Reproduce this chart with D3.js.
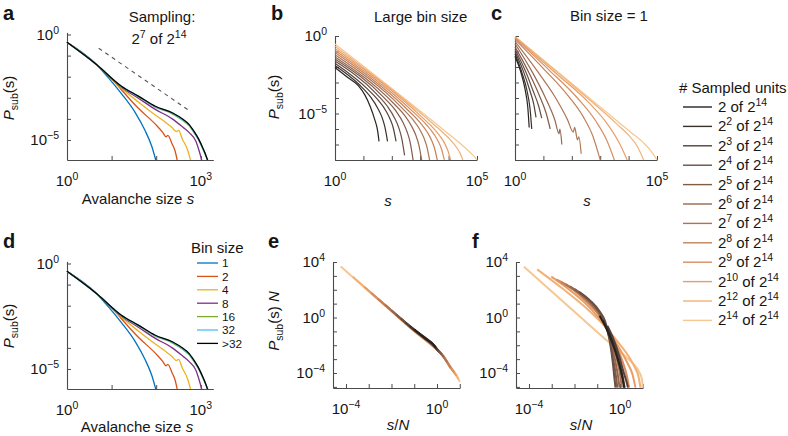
<!DOCTYPE html>
<html><head><meta charset="utf-8">
<script src="https://cdn.jsdelivr.net/npm/d3@7"></script>
<style>
body{margin:0;background:#fff}
svg{display:block;background:#fff}
text{font-family:"Liberation Sans",Arial,Helvetica,sans-serif;fill:#151515;white-space:pre}
</style>
</head><body>
<svg id="chart" width="788" height="436"></svg>
<script>
// ---------------- DATA (log10 exponents: [log10 x, log10 y]) ----------------
const binSizes = ["1","2","4","8","16","32",">32"];
// panel a / d : P_sub(s) vs avalanche size for each bin size
const binBlue   = [[0,-0.37],[0.66,-1.42],[0.92,-2.03],[1.22,-2.8],[1.53,-3.7],[1.75,-4.55],[1.9,-5.3],[1.99,-5.95]];
const binRed    = [[0,-0.37],[0.66,-1.42],[1.0,-2.1],[1.22,-2.62],[1.6,-3.5],[1.98,-4.25],[2.15,-4.65],[2.22,-4.85],[2.26,-4.78],[2.36,-5.2],[2.42,-5.5],[2.47,-5.95]];
const binYellow = [[0,-0.37],[0.66,-1.42],[1.22,-2.55],[1.6,-3.2],[1.98,-3.82],[2.2,-4.15],[2.36,-4.42],[2.45,-4.6],[2.5,-4.55],[2.59,-4.98],[2.7,-5.45],[2.77,-5.95]];
const binPurple = [[0,-0.37],[0.66,-1.42],[1.22,-2.5],[1.6,-3.02],[1.98,-3.55],[2.36,-4.0],[2.6,-4.4],[2.74,-4.65],[2.89,-5.06],[2.96,-5.5],[3.02,-5.95]];
const binGreen  = [[0,-0.37],[0.66,-1.43],[1.22,-2.47],[1.6,-2.95],[1.98,-3.44],[2.36,-3.76],[2.6,-4.08],[2.74,-4.33],[2.85,-4.66],[2.95,-5.0],[3.05,-5.45],[3.1,-5.7],[3.16,-5.95]];
const binCyan   = [[0,-0.37],[0.66,-1.42],[1.22,-2.46],[1.6,-2.93],[1.98,-3.42],[2.36,-3.73],[2.6,-4.05],[2.74,-4.3],[2.85,-4.63],[2.95,-4.97],[3.05,-5.42],[3.1,-5.67],[3.15,-5.95]];
const binBlack  = [[0,-0.37],[0.66,-1.42],[1.22,-2.45],[1.6,-2.92],[1.98,-3.4],[2.36,-3.71],[2.6,-4.02],[2.74,-4.27],[2.85,-4.6],[2.95,-4.95],[3.05,-5.4],[3.1,-5.65],[3.15,-5.95]];
const guideSlope = [[0.71,-0.65],[2.72,-3.58]];

// sampled units: 2^k of 2^14
const sampExp = ["1","2","3","4","5","6","7","8","9","10","12","14"];
// panel b : large bin size
const bK1  = [[0,-2.03],[0.45,-2.68],[0.82,-3.2],[1.05,-3.8],[1.24,-4.55],[1.4,-5.4],[1.5,-6.1],[1.55,-6.8]];
const bK2  = [[0,-1.90],[0.85,-3.13],[1.25,-3.93],[1.5,-4.64],[1.65,-5.22],[1.75,-5.82],[1.85,-6.80]];
const bK3  = [[0,-1.76],[1.15,-3.43],[1.55,-4.20],[1.8,-4.85],[1.95,-5.40],[2.05,-5.92],[2.15,-6.80]];
const bK4  = [[0,-1.62],[1.45,-3.72],[1.85,-4.55],[2.1,-5.30],[2.25,-5.94],[2.35,-6.60],[2.45,-7.70]];
const bK5  = [[0,-1.48],[1.75,-4.02],[2.15,-4.85],[2.4,-5.59],[2.55,-6.24],[2.65,-6.89],[2.75,-8.00]];
const bK6  = [[0,-1.35],[2.05,-4.32],[2.45,-5.12],[2.7,-5.83],[2.85,-6.42],[2.95,-7.01],[3.05,-8.00]];
const bK7  = [[0,-1.21],[2.33,-4.59],[2.73,-5.37],[2.98,-6.02],[3.13,-6.57],[3.23,-7.11],[3.33,-8.00]];
const bK8  = [[0,-1.07],[2.6,-4.84],[3.0,-5.59],[3.25,-6.21],[3.4,-6.72],[3.5,-7.21],[3.6,-8.00]];
const bK9  = [[0,-0.93],[2.85,-5.06],[3.25,-5.79],[3.5,-6.38],[3.65,-6.85],[3.75,-7.29],[3.85,-8.00]];
const bK10 = [[0,-0.80],[3.07,-5.25],[3.47,-5.96],[3.72,-6.52],[3.87,-6.96],[3.97,-7.37],[4.07,-8.00]];
const bK12 = [[0,-0.66],[3.5,-5.74],[3.9,-6.40],[4.15,-6.88],[4.3,-7.24],[4.4,-7.54],[4.5,-8.00]];
const bK14 = [[0,-0.52],[4.0,-6.32],[4.4,-6.92],[4.65,-7.32],[4.8,-7.58],[4.9,-7.77],[5.0,-8.00]];
// panel c : bin size = 1
const cK1  = [[0,-1.3],[0.2,-2.3],[0.35,-3.4],[0.45,-4.6],[0.5,-5.9]];
const cK2  = [[0,-1.15],[0.25,-2.4],[0.42,-3.5],[0.53,-4.7],[0.59,-6.0]];
const cK3  = [[0,-1.0],[0.3,-2.3],[0.52,-3.5],[0.66,-4.4],[0.74,-5.25]];
const cK4  = [[0,-0.85],[0.4,-2.4],[0.65,-3.6],[0.83,-4.5],[0.94,-5.3]];
const cK5  = [[0,-0.7],[0.5,-2.4],[0.85,-3.8],[1.1,-5.0],[1.24,-6.0]];
const cK6  = [[0,-0.5],[0.6,-2.3],[1.05,-3.9],[1.4,-5.4],[1.55,-6.3],[1.58,-6.0],[1.65,-7.0]];
const cK7  = [[0,-0.35],[0.8,-2.3],[1.4,-3.9],[1.85,-5.4],[2.05,-6.2],[2.1,-5.9],[2.2,-6.7],[2.25,-6.5],[2.33,-7.6]];
const cK8  = [[0,-0.22],[1.0,-2.1],[1.8,-3.7],[2.4,-5.2],[2.75,-6.5],[3.0,-8]];
const cK9  = [[0,-0.14],[1.2,-2.2],[2.2,-4.0],[2.85,-5.5],[3.25,-6.8],[3.5,-8]];
const cK10 = [[0,-0.09],[1.5,-2.5],[2.6,-4.3],[3.3,-5.8],[3.7,-7.0],[3.95,-8]];
const cK12 = [[0,-0.05],[2,-3.15],[3.6,-5.7],[4.0,-6.4],[4.3,-7.1],[4.53,-8]];
const cK14 = [[0,-0.03],[2,-3.07],[4,-6.1],[4.53,-6.9],[4.8,-7.45],[5.0,-8]];
// panel e : collapse with large bin size (P_sub(s) N vs s/N)
const eK1  = [[-1.0,-0.86],[-0.5,-1.53],[-0.1,-2.05],[-0.05,-2.18]];
const eK2  = [[-1.2,-0.61],[-0.5,-1.54],[-0.1,-2.07],[0.0,-2.28]];
const eK3  = [[-1.4,-0.35],[-1,-0.89],[-0.1,-2.08],[0.05,-2.4]];
const eK4  = [[-1.6,-0.06],[-1,-0.9],[-0.1,-2.1],[0.1,-2.5]];
const eK5  = [[-1.8,0.22],[-1,-0.9],[-0.1,-2.1],[0.2,-2.65]];
const eK6  = [[-2.0,0.5],[-1,-0.92],[-0.1,-2.12],[0.3,-2.85]];
const eK7  = [[-2.3,0.93],[-1,-0.93],[-0.1,-2.13],[0.2,-2.62],[0.45,-3.25]];
const eK8  = [[-2.6,1.36],[-2,0.5],[-1,-0.94],[-0.1,-2.14],[0.3,-2.87],[0.6,-3.65]];
const eK9  = [[-2.9,1.78],[-2,0.5],[-1,-0.95],[-0.1,-2.15],[0.3,-2.85],[0.75,-3.95]];
const eK10 = [[-3.2,2.22],[-2,0.48],[-1,-0.96],[-0.1,-2.16],[0.3,-2.83],[0.6,-3.62],[0.85,-4.2]];
const eK12 = [[-3.7,2.93],[-3,1.92],[-2,0.47],[-1,-0.98],[-0.1,-2.18],[0.3,-2.82],[0.57,-3.58],[0.8,-4.05],[0.95,-4.45]];
const eK14 = [[-4.23,3.67],[-3,1.9],[-2,0.45],[-1,-1.0],[-0.1,-2.2],[0.3,-2.8],[0.57,-3.55],[0.86,-4.17],[1.0,-4.65]];
// panel f : collapse with bin size 1
const fK1  = [[-0.9,0.12],[-0.6,-0.8],[-0.3,-2.0],[-0.05,-3.3],[0.1,-4.3],[0.18,-5.05]];
const fK2  = [[-0.75,-0.2],[-0.45,-1.2],[-0.2,-2.35],[0.0,-3.5],[0.12,-4.4],[0.2,-5.05]];
const fK3  = [[-0.55,-0.6],[-0.3,-1.5],[-0.05,-2.7],[0.15,-3.9],[0.28,-4.6],[0.35,-5.05]];
const fK4  = [[-1.8,1.85],[-1.3,1.2],[-0.9,0.45],[-0.65,-0.3],[-0.45,-1.7],[-0.32,-3.2],[-0.25,-4.3],[-0.2,-5.05]];
const fK5  = [[-2.0,2.05],[-1.5,1.45],[-1.0,0.6],[-0.7,-0.2],[-0.45,-1.6],[-0.3,-3.0],[-0.18,-4.2],[-0.12,-5.05]];
const fK6  = [[-2.2,2.25],[-1.6,1.55],[-1.1,0.75],[-0.75,-0.1],[-0.45,-1.4],[-0.25,-2.8],[-0.1,-4.1],[-0.02,-5.05]];
const fK7  = [[-2.4,2.4],[-1.8,1.75],[-1.2,0.85],[-0.8,0.0],[-0.45,-1.2],[-0.2,-2.6],[-0.02,-3.9],[0.08,-5.05]];
const fK8  = [[-2.6,2.55],[-2.0,1.95],[-1.4,1.1],[-0.9,0.15],[-0.5,-1.0],[-0.2,-2.3],[0.05,-3.6],[0.2,-5.05]];
const fK9  = [[-2.8,2.75],[-2.2,2.2],[-1.6,1.35],[-1.0,0.35],[-0.6,-0.6],[-0.2,-1.9],[0.1,-3.1],[0.3,-4.2],[0.4,-5.05]];
const fK10 = [[-3.02,2.95],[-2.3,2.1],[-1.6,1.15],[-1.0,0.1],[-0.5,-1.0],[0,-2.3],[0.3,-3.2],[0.55,-4.1],[0.68,-5.05]];
const fK12 = [[-3.64,3.47],[-2.5,2.05],[-1.5,0.7],[-0.6,-0.75],[0,-1.95],[0.4,-2.85],[0.65,-3.6],[0.82,-4.3],[0.9,-5.05]];
const fK14 = [[-4.22,3.66],[-2,0.42],[-0.5,-1.77],[0.3,-2.9],[0.66,-3.47],[0.85,-3.95],[0.97,-4.5],[1.0,-5.05]];

// ---------------- STYLE ----------------
const binColors  = ["#0072BD","#D95319","#EDB120","#7E2F8E","#77AC30","#4DBEEE","#000000"];
const sampColors = ["#262220","#3b312b","#52413a","#6a4f42","#805b48","#96674e","#ad7453","#c38058","#d88e5f","#e99d66","#f2b177","#f6c791"];
const AXIS = "#4a4a4a";
const FS = 15;

const bData = [bK1,bK2,bK3,bK4,bK5,bK6,bK7,bK8,bK9,bK10,bK12,bK14];
const cData = [cK1,cK2,cK3,cK4,cK5,cK6,cK7,cK8,cK9,cK10,cK12,cK14];
const eData = [eK1,eK2,eK3,eK4,eK5,eK6,eK7,eK8,eK9,eK10,eK12,eK14];
const fData = [fK1,fK2,fK3,fK4,fK5,fK6,fK7,fK8,fK9,fK10,fK12,fK14];
const binData = [binBlue,binRed,binYellow,binPurple,binGreen,binCyan,binBlack];

const svg = d3.select("#chart");
const p10 = v => Math.pow(10, v);
const fmt = e => e < 0 ? "\u2212" + (-e) : String(e);

function rich(sel, parts, size) {
  let shift = 0;
  parts.forEach(p => {
    const target = p.sup ? -0.4 * size : p.sub ? 0.28 * size : 0;
    const ts = sel.append("tspan").text(p.t);
    if (target !== shift) { ts.attr("dy", target - shift); shift = target; }
    if (p.sup || p.sub) ts.attr("font-size", size * 0.7);
    if (p.it) ts.attr("font-style", "italic");
  });
  return sel;
}
function txt(x, y, anchor, size) {
  return svg.append("text").attr("x", x).attr("y", y).attr("text-anchor", anchor).attr("font-size", size);
}

function makePanel(c) {
  const x = d3.scaleLog().domain([p10(c.xd[0]), p10(c.xd[1])]).range([c.l, c.r]);
  const y = d3.scaleLog().domain([p10(c.yd[0]), p10(c.yd[1])]).range([c.b, c.t]);
  const g = svg.append("g");
  const ax = g.append("g").attr("transform", `translate(0,${c.b})`)
    .call(d3.axisBottom(x).tickValues(c.xt.map(p10)).tickSize(-4).tickSizeOuter(0).tickFormat(""));
  const ay = g.append("g").attr("transform", `translate(${c.l},0)`)
    .call(d3.axisLeft(y).tickValues(c.yt.map(p10)).tickSize(-4).tickSizeOuter(0).tickFormat(""));
  [ax, ay].forEach(a => {
    a.select(".domain").attr("stroke", AXIS).attr("stroke-width", 1.1);
    a.selectAll(".tick line").attr("stroke", AXIS).attr("stroke-width", 1);
  });
  c.xl.forEach(e => rich(txt(x(p10(e)), c.b + 26, "middle", FS), [{t:"10"},{t:fmt(e),sup:true}], FS));
  c.yl.forEach(e => rich(txt(c.l - 8, y(p10(e)) + 5, "end", FS), [{t:"10"},{t:fmt(e),sup:true}], FS));
  const line = d3.line().x(d => x(p10(d[0]))).y(d => y(p10(d[1]))).curve(d3.curveMonotoneX);
  const lines = g.append("g");
  return {g, x, y, line, lines};
}
function draw(P, data, color, w, dash) {
  const p = P.lines.append("path").datum(data).attr("fill", "none").attr("stroke", color)
    .attr("stroke-width", w).attr("stroke-linejoin", "round").attr("d", P.line);
  if (dash) p.attr("stroke-dasharray", dash);
}
function ylabel(x, y, parts) {
  rich(svg.append("text").attr("transform", `translate(${x},${y}) rotate(-90)`)
    .attr("text-anchor", "middle").attr("font-size", FS), parts, FS);
}
function panelLetter(l, x, y) {
  svg.append("text").attr("x", x).attr("y", y).attr("font-size", 20).attr("font-weight", "bold").text(l);
}

// ---------- panel a ----------
const A = makePanel({xd:[0,3.28], yd:[-5.95,0.1], l:67, r:213.3, t:32.4, b:160,
  xt:[0,1,2,3], yt:[0,-1,-2,-3,-4,-5], xl:[0,3], yl:[0,-5]});
binData.forEach((d, i) => draw(A, d, binColors[i], 1.3));
draw(A, guideSlope, "#555", 1.1, "4,4");
// ---------- panel d ----------
const D = makePanel({xd:[0,3.28], yd:[-5.95,0.1], l:67, r:213.3, t:261.4, b:389,
  xt:[0,1,2,3], yt:[0,-1,-2,-3,-4,-5], xl:[0,3], yl:[0,-5]});
binData.forEach((d, i) => draw(D, d, binColors[i], 1.3));
// ---------- panel b ----------
const B = makePanel({xd:[0,5], yd:[-8,0], l:335, r:477, t:36, b:160,
  xt:[0,1,2,3,4,5], yt:[0,-1,-2,-3,-4,-5,-6,-7,-8], xl:[0,5], yl:[0,-5]});
for (let i = bData.length - 1; i >= 0; i--) draw(B, bData[i], sampColors[i], 1.2);
// ---------- panel c ----------
const C = makePanel({xd:[0,5], yd:[-8,0], l:515, r:657, t:36, b:160,
  xt:[0,1,2,3,4,5], yt:[0,-1,-2,-3,-4,-5,-6,-7,-8], xl:[0,5], yl:[]});
for (let i = cData.length - 1; i >= 0; i--) draw(C, cData[i], sampColors[i], 1.2);
// ---------- panel e ----------
const E = makePanel({xd:[-4.57,1.01], yd:[-5.08,4], l:333, r:460, t:262, b:388,
  xt:[-4,-3,-2,-1,0,1], yt:[4,3,2,1,0,-1,-2,-3,-4,-5], xl:[-4,0], yl:[4,0,-4]});
for (let i = eData.length - 1; i >= 0; i--) draw(E, eData[i], sampColors[i], 2);
// ---------- panel f ----------
const F = makePanel({xd:[-4.57,1.01], yd:[-5.08,4], l:516, r:643, t:262, b:388,
  xt:[-4,-3,-2,-1,0,1], yt:[4,3,2,1,0,-1,-2,-3,-4,-5], xl:[-4,0], yl:[4,0,-4]});
for (let i = fData.length - 1; i >= 0; i--) draw(F, fData[i], sampColors[i], 2);

// ---------- labels ----------
panelLetter("a", 3, 20); panelLetter("b", 271, 20); panelLetter("c", 491, 20);
panelLetter("d", 3, 248); panelLetter("e", 268, 248); panelLetter("f", 472, 248);

txt(162, 22, "middle", FS).text("Sampling:");
rich(txt(159, 44, "middle", FS), [{t:"2"},{t:"7",sup:true},{t:" of 2"},{t:"14",sup:true}], FS);
txt(374, 22, "start", FS).text("Large bin size");
txt(570, 21, "start", FS).text("Bin size = 1");

const psub = [{t:"P",it:true},{t:"sub",sub:true},{t:"(s)"}];
ylabel(14, 98, psub); ylabel(14, 326, psub); ylabel(279, 97, psub);
ylabel(279, 321, [{t:"P",it:true},{t:"sub",sub:true},{t:"(s) "},{t:"N",it:true}]);

rich(txt(138, 204, "middle", FS), [{t:"Avalanche size "},{t:"s",it:true}], FS);
rich(txt(137, 432, "middle", FS), [{t:"Avalanche size "},{t:"s",it:true}], FS);
rich(txt(388, 206, "middle", FS), [{t:"s",it:true}], FS);
rich(txt(587, 206, "middle", FS), [{t:"s",it:true}], FS);
rich(txt(398, 430, "middle", FS), [{t:"s",it:true},{t:"/"},{t:"N",it:true}], FS);
rich(txt(581, 430, "middle", FS), [{t:"s",it:true},{t:"/"},{t:"N",it:true}], FS);

// legend: bin size (panel d)
txt(191, 253, "start", FS).text("Bin size");
binSizes.forEach((b, i) => {
  const yy = 263 + i * 13.4;
  svg.append("line").attr("x1", 197).attr("x2", 218).attr("y1", yy).attr("y2", yy)
    .attr("stroke", binColors[i]).attr("stroke-width", 1.3);
  txt(222, yy + 4.3, "start", 11.8).text(b);
});
// legend: sampled units
txt(679, 93, "start", FS).text("# Sampled units");
sampExp.forEach((k, i) => {
  const yy = 107 + i * 19.4;
  svg.append("line").attr("x1", 683).attr("x2", 712).attr("y1", yy).attr("y2", yy)
    .attr("stroke", sampColors[i]).attr("stroke-width", 1.4);
  const parts = k === "1" ? [{t:"2 of 2"},{t:"14",sup:true}]
    : [{t:"2"},{t:k,sup:true},{t:" of 2"},{t:"14",sup:true}];
  rich(txt(718, yy + 5, "start", FS), parts, FS);
});
</script>
</body></html>
